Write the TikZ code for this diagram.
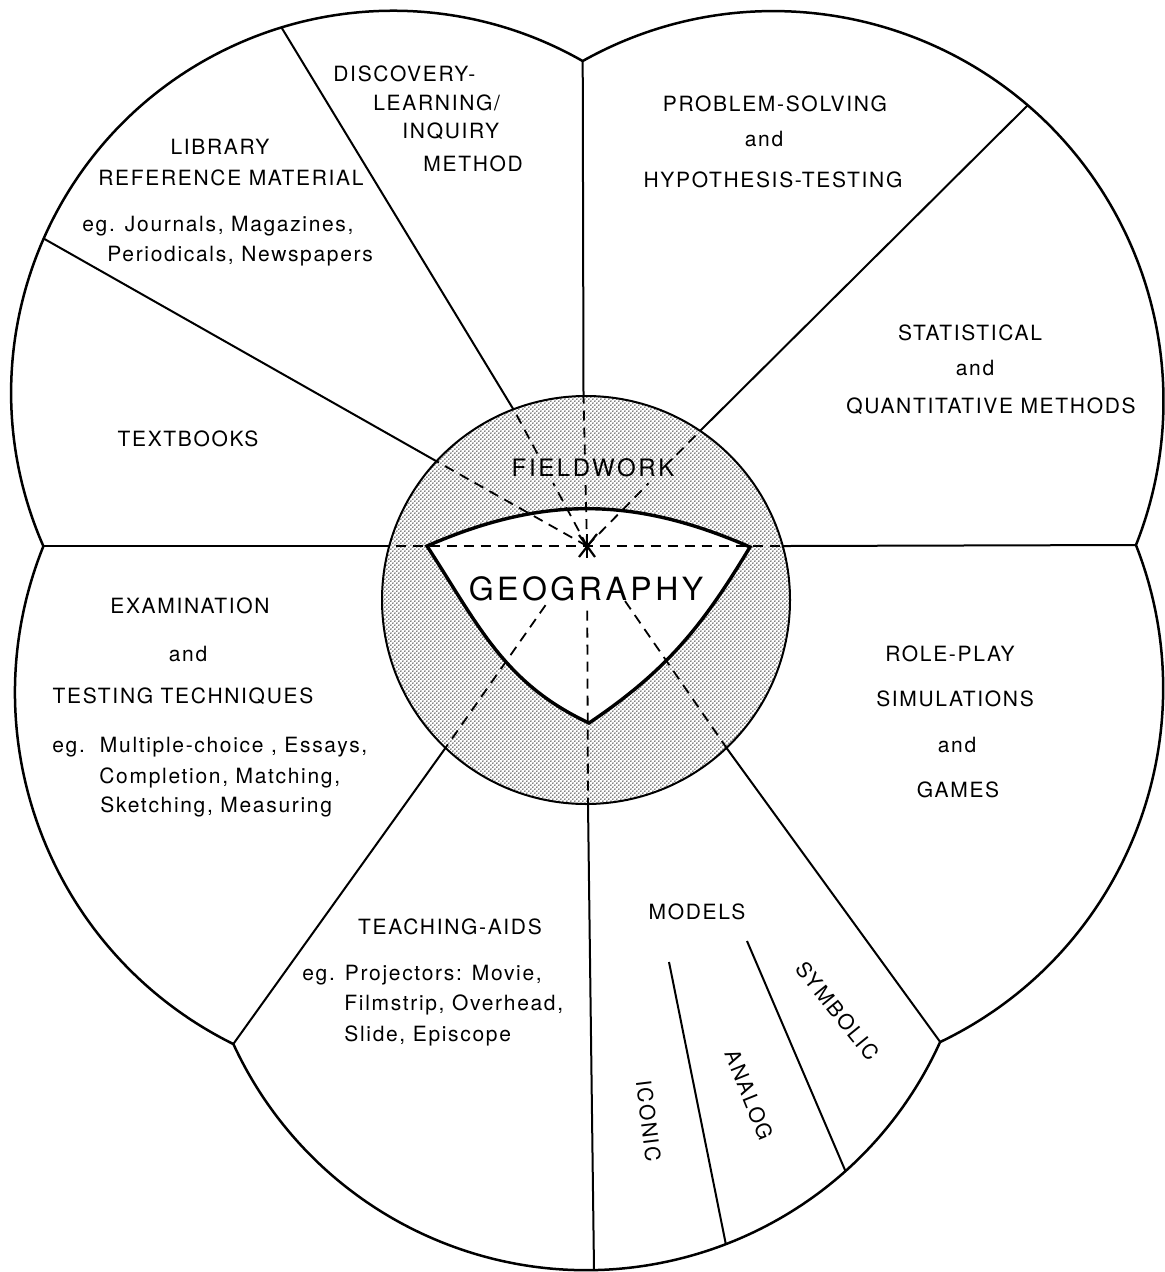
\documentclass[tikz,border=0pt]{standalone}
\usepackage{fontspec}
\setmainfont{TeX Gyre Heros}
\newfontfamily\labfont[LetterSpace=8]{TeX Gyre Heros}
\newfontfamily\ctrfont[LetterSpace=11]{TeX Gyre Heros}
\usetikzlibrary{calc,patterns}
\pgfdeclarepatternformonly{fwdots}{\pgfpointorigin}{\pgfpoint{2.2pt}{2.2pt}}{\pgfpoint{2.2pt}{2.2pt}}{%
  \pgfpathcircle{\pgfpoint{0.55pt}{0.55pt}}{0.42pt}%
  \pgfpathcircle{\pgfpoint{1.65pt}{1.65pt}}{0.42pt}%
  \pgfusepath{fill}}
\newcommand{\outerspec}{(JL) arc[start angle=156.34, end angle=299.74, radius=382]
  arc[start angle=240.7, end angle=381.66, radius=390]
  arc[start angle=-21.44, end angle=64.46, radius=392]
  arc[start angle=24.39, end angle=155.28, radius=388.5]
  arc[start angle=116.29, end angle=201.94, radius=392] -- cycle}
\begin{document}
\begin{tikzpicture}[x=0.5pt,y=-0.5pt,
  outline/.style={line width=1.25pt,line join=round},
  divider/.style={line width=1pt},
  ray/.style={line width=0.9pt,dash pattern=on 5pt off 3.5pt},
  tri/.style={line width=1.7pt,line join=miter,fill=white},
  ring/.style={line width=1pt},
  lbl/.style={font=\labfont\fontsize{10.5pt}{12.6pt}\selectfont,inner sep=0pt},
  ctr/.style={font=\ctrfont\fontsize{16pt}{19pt}\selectfont,inner sep=0pt},
  fw/.style={font=\ctrfont\fontsize{12pt}{14pt}\selectfont,inner sep=0pt}]

\fill[white] (0,0) rectangle (1165,1272);
\useasboundingbox (0,0) rectangle (1165,1272);

% key points
\coordinate (S) at (587,546);
\coordinate (C) at (586,600);
\coordinate (JL) at (43.3,546);
\coordinate (JT) at (582.7,61);
\coordinate (JR) at (1136,545);
\coordinate (JBR) at (940,1041.7);
\coordinate (JBL) at (233.3,1044);
\coordinate (QT) at (583.5,396);   \coordinate (PT) at (582.7,61);
\coordinate (QA) at (515,412);     \coordinate (PA) at (283,30);
\coordinate (QB) at (436,461);     \coordinate (PB) at (48,241);
\coordinate (QL) at (382,546);
\coordinate (QR) at (790,546);
\coordinate (QU) at (699,432);     \coordinate (PR) at (1029,104);
\coordinate (QLL) at (444,750);
\coordinate (QBot) at (588,804);   \coordinate (PBot) at (594,1270);
\coordinate (QLR) at (728,750);
\coordinate (M1a) at (669,962);    \coordinate (M1b) at (726,1245);
\coordinate (M2a) at (747,941);    \coordinate (M2b) at (845,1170);
\coordinate (TL) at (427,546);
\coordinate (TR) at (750,547);
\coordinate (TB) at (589,723);

% sector dividers
\begin{scope}
  \clip \outerspec;
  \foreach \q/\p in {QT/PT,QA/PA,QB/PB,QL/JL,QR/JR,QU/PR,QLL/JBL,QBot/PBot,QLR/JBR}
    \draw[divider] ($(\p)!1.08!(\q)$) -- ($(\q)!1.1!(\p)$);
  \draw[divider] (M1a) -- ($(M1a)!1.05!(M1b)$);
  \draw[divider] (M2a) -- ($(M2a)!1.05!(M2b)$);
\end{scope}

% fieldwork ring
\fill[white] (C) circle (204);
\fill[pattern=fwdots] (C) circle (204);
\draw[ring] (C) circle (204);

% geography triangle
\draw[tri] (TL) to[out=23.5,in=156.5] (TR) to[out=-121,in=34] (TB) to[out=155,in=-57] (TL) -- cycle;

% dashed rays to the centre (broken where they pass behind FIELDWORK)
\begin{scope}
  \clip (C) circle (204);
  \draw[ray] (S) -- ($(S)!0.47!(QA)$);  \draw[ray] ($(S)!0.69!(QA)$) -- ($(S)!1.3!(QA)$);
  \draw[ray] (S) -- ($(S)!0.42!(QT)$);  \draw[ray] ($(S)!0.61!(QT)$) -- ($(S)!1.3!(QT)$);
  \draw[ray] (S) -- ($(S)!0.55!(QU)$);  \draw[ray] ($(S)!0.80!(QU)$) -- ($(S)!1.3!(QU)$);
  \draw[ray] (S) -- ($(S)!1.3!(QB)$);
  \draw[ray] ($(S)!1.1!(QL)$) -- ($(S)!1.1!(QR)$);
  \foreach \q/\f in {QLL/0.29,QBot/0.25,QLR/0.27}
    \draw[ray] ($(S)!\f!(\q)$) -- ($(S)!1.2!(\q)$);
\end{scope}

\node[fw] (fieldwork) at (593,468) {FIELDWORK};
\node[ctr] (geography) at (586,589) {GEOGRAPHY};

% star at the centre
\draw[line width=1.1pt] ($(S)+(-8,-11)$) -- ($(S)+(8,11)$);
\draw[line width=1.1pt] ($(S)+(-8,11)$) -- ($(S)+(10,-12)$);
\draw[line width=1.1pt] ($(S)+(0,-12)$) -- ($(S)+(0,12)$);

% outer boundary
\draw[outline] \outerspec;

% labels
\node[lbl,anchor=base west] (dl1) at (333,82) {DISCOVERY-};
\node[lbl,anchor=base west] (dl2) at (373,111) {LEARNING/};
\node[lbl,anchor=base west] (dl3) at (402,139) {INQUIRY};
\node[lbl,anchor=base west] (dl4) at (423,172) {METHOD};

\node[lbl,anchor=base] (lib1) at (220,155) {LIBRARY};
\node[lbl,anchor=base] (lib2) at (231,186) {REFERENCE MATERIAL};
\node[lbl,anchor=base west] (lib3) at (82,232) {eg. Journals, Magazines,};
\node[lbl,anchor=base west] (lib4) at (107,262) {Periodicals, Newspapers};

\node[lbl,anchor=base] (tb) at (188,446) {TEXTBOOKS};

\node[lbl,anchor=base] (ps1) at (775,112) {PROBLEM-SOLVING};
\node[lbl,anchor=base] (ps2) at (764,147) {and};
\node[lbl,anchor=base] (ps3) at (773,188) {HYPOTHESIS-TESTING};

\node[lbl,anchor=base] (st1) at (970,341) {STATISTICAL};
\node[lbl,anchor=base] (st2) at (975,376) {and};
\node[lbl,anchor=base] (st3) at (991,414) {QUANTITATIVE METHODS};

\node[lbl,anchor=base] (ex1) at (190,613) {EXAMINATION};
\node[lbl,anchor=base] (ex2) at (188,661) {and};
\node[lbl,anchor=base] (ex3) at (183,703) {TESTING TECHNIQUES};
\node[lbl,anchor=base west] (ex4) at (52,752) {eg.\ \ Multiple-choice , Essays,};
\node[lbl,anchor=base west] (ex5) at (99,783) {Completion, Matching,};
\node[lbl,anchor=base west] (ex6) at (100,812) {Sketching, Measuring};

\node[lbl,anchor=base] (ta1) at (450,934) {TEACHING-AIDS};
\node[lbl,anchor=base west] (ta2) at (302,980) {eg. Projectors: Movie,};
\node[lbl,anchor=base west] (ta3) at (344,1010) {Filmstrip, Overhead,};
\node[lbl,anchor=base west] (ta4) at (344,1041) {Slide, Episcope};

\node[lbl,anchor=base] (rp1) at (950,661) {ROLE-PLAY};
\node[lbl,anchor=base] (rp2) at (955,706) {SIMULATIONS};
\node[lbl,anchor=base] (rp3) at (957,752) {and};
\node[lbl,anchor=base] (rp4) at (958,797) {GAMES};

\node[lbl,anchor=base] (mod) at (697,919) {MODELS};
\node[lbl,rotate=-83] (iconic) at (648.5,1121) {ICONIC};
\node[lbl,rotate=-68] (analog) at (749,1095) {ANALOG};
\node[lbl,rotate=-51] (symbolic) at (837.5,1011) {SYMBOLIC};
\end{tikzpicture}
\end{document}
